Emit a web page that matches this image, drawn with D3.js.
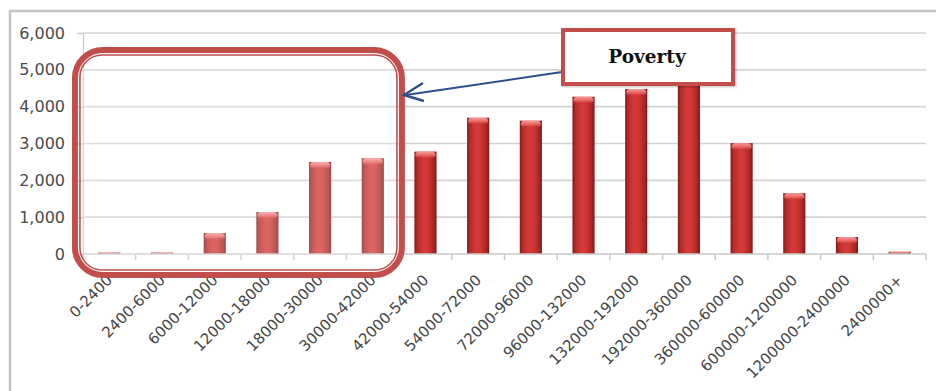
<!DOCTYPE html>
<html>
<head>
<meta charset="utf-8">
<script src="https://cdn.jsdelivr.net/npm/d3@7"></script>
<style>
  html, body { margin: 0; padding: 0; background: #ffffff; }
  svg { display: block; }
</style>
</head>
<body>
<svg id="chart" width="936" height="391"></svg>
<script>
// Income brackets and household counts per bracket
const categories = [
  "0-2400", "2400-6000", "6000-12000", "12000-18000", "18000-30000",
  "30000-42000", "42000-54000", "54000-72000", "72000-96000", "96000-132000",
  "132000-192000", "192000-360000", "360000-600000", "600000-1200000",
  "1200000-2400000", "2400000+"
];
const counts = [
  40, 40, 570, 1140, 2500,
  2600, 2780, 3700, 3620, 4270,
  4480, 4750, 3010, 1650,
  460, 60
];
const yTicks = [0, 1000, 2000, 3000, 4000, 5000, 6000];
// Brackets grouped under the poverty annotation
const povertyBrackets = categories.slice(0, 6);
const annotationLabel = "Poverty";

const svg = d3.select("#chart");
const W = 936, H = 391;
const plot = { left: 83, right: 926, top: 33, bottom: 254 };

const x = d3.scaleBand()
  .domain(categories)
  .range([plot.left, plot.right])
  .paddingInner(0.58)
  .paddingOuter(0.29);

const y = d3.scaleLinear()
  .domain([0, 6000])
  .range([plot.bottom, plot.top]);

const defs = svg.append("defs");

// Cylinder-like shading across each bar
const barGrad = defs.append("linearGradient")
  .attr("id", "barGrad").attr("x1", "0").attr("x2", "1").attr("y1", "0").attr("y2", "0");
[["0%", "#7e1a1a"], ["12%", "#b22a28"], ["40%", "#d43a37"], ["60%", "#d03835"],
 ["88%", "#aa2624"], ["100%", "#761616"]]
  .forEach(([o, c]) => barGrad.append("stop").attr("offset", o).attr("stop-color", c));

const capGrad = defs.append("linearGradient")
  .attr("id", "capGrad").attr("x1", "0").attr("x2", "0").attr("y1", "0").attr("y2", "1");
[["0%", "#f7a0a0", 1], ["60%", "#ec6a66", 0.8], ["100%", "#d43a37", 0]]
  .forEach(([o, c, a]) => capGrad.append("stop").attr("offset", o).attr("stop-color", c).attr("stop-opacity", a));

const shadow = defs.append("filter").attr("id", "soft").attr("x", "-10%").attr("y", "-10%")
  .attr("width", "130%").attr("height", "130%");
shadow.append("feDropShadow").attr("dx", 1).attr("dy", 1).attr("stdDeviation", 1.2)
  .attr("flood-color", "#000").attr("flood-opacity", 0.25);

// Outer frame (top and left edges)
svg.append("path")
  .attr("d", `M10,${H} L10,11 L${W},11`)
  .attr("fill", "none").attr("stroke", "#c4c4c4").attr("stroke-width", 2.5);

// Horizontal gridlines + y axis labels
const yAxis = d3.axisLeft(y)
  .tickValues(yTicks)
  .tickSize(6)
  .tickPadding(12)
  .tickFormat(d3.format(","));

const yG = svg.append("g").attr("transform", `translate(${plot.left},0)`).call(yAxis);
yG.select(".domain").attr("stroke", "#c8c8c8").attr("stroke-width", 1.2);
yG.selectAll(".tick line").attr("stroke", "#c8c8c8").attr("stroke-width", 1.5);
yG.selectAll(".tick text")
  .attr("fill", "#4a4a4a").attr("font-family", "DejaVu Sans, sans-serif").attr("font-size", "16px");

svg.append("g").selectAll("line")
  .data(yTicks.filter(d => d > 0))
  .join("line")
  .attr("x1", plot.left).attr("x2", plot.right)
  .attr("y1", d => y(d)).attr("y2", d => y(d))
  .attr("stroke", "#d2d2d2").attr("stroke-width", 1.6);

// Bars
const bars = svg.append("g");
bars.selectAll("rect.bar")
  .data(categories)
  .join("rect")
  .attr("class", "bar")
  .attr("x", d => x(d))
  .attr("y", (d, i) => y(counts[i]))
  .attr("width", x.bandwidth())
  .attr("height", (d, i) => y(0) - y(counts[i]))
  .attr("fill", "url(#barGrad)");

bars.selectAll("rect.cap")
  .data(categories)
  .join("rect")
  .attr("class", "cap")
  .attr("x", d => x(d) + 1)
  .attr("y", (d, i) => y(counts[i]))
  .attr("width", x.bandwidth() - 2)
  .attr("height", (d, i) => Math.min(7, y(0) - y(counts[i])))
  .attr("rx", 4)
  .attr("fill", "url(#capGrad)");

// Category axis with ticks between brackets
svg.append("line")
  .attr("x1", plot.left).attr("x2", plot.right)
  .attr("y1", plot.bottom).attr("y2", plot.bottom)
  .attr("stroke", "#c8c8c8").attr("stroke-width", 1.5);

const step = x.step();
const boundaries = categories.map(d => x(d) - (step - x.bandwidth()) / 2)
  .concat([plot.right]);
svg.append("g").selectAll("line")
  .data(boundaries)
  .join("line")
  .attr("x1", d => d).attr("x2", d => d)
  .attr("y1", plot.bottom).attr("y2", plot.bottom + 6)
  .attr("stroke", "#c8c8c8").attr("stroke-width", 1.5);

svg.append("g").selectAll("text")
  .data(categories)
  .join("text")
  .attr("transform", d => `translate(${x(d) + x.bandwidth() / 2 + 4},${plot.bottom + 27}) rotate(-45)`)
  .attr("text-anchor", "end")
  .attr("fill", "#454545")
  .attr("font-family", "DejaVu Sans, sans-serif")
  .attr("font-size", "15px")
  .text(d => d);

// Highlight around the poverty brackets
const first = povertyBrackets[0], last = povertyBrackets[povertyBrackets.length - 1];
const hx0 = x(first) - step * 0.5, hx1 = x(last) + x.bandwidth() + step * 0.4;
const hy0 = 47, hy1 = 278;

svg.append("rect")
  .attr("x", hx0 + 8).attr("y", hy0 + 8)
  .attr("width", hx1 - hx0 - 16).attr("height", hy1 - hy0 - 16)
  .attr("rx", 22)
  .attr("fill", "#ffffff").attr("fill-opacity", 0.22)
  .attr("stroke", "#c24e4c").attr("stroke-width", 1.6);

svg.append("rect")
  .attr("x", hx0 + 3).attr("y", hy0 + 3)
  .attr("width", hx1 - hx0 - 6).attr("height", hy1 - hy0 - 6)
  .attr("rx", 28)
  .attr("fill", "none")
  .attr("stroke", "#c24e4c").attr("stroke-width", 6);

// Arrow from label box to the highlight
const arrowTip = [hx1 - 1, 95];
const arrowStart = [562, 72];
svg.append("line")
  .attr("x1", arrowStart[0]).attr("y1", arrowStart[1])
  .attr("x2", arrowTip[0] + 2).attr("y2", arrowTip[1])
  .attr("stroke", "#2e4f8e").attr("stroke-width", 2);
svg.append("path")
  .attr("d", `M${arrowTip[0] + 19},${arrowTip[1] - 12} L${arrowTip[0]},${arrowTip[1]} L${arrowTip[0] + 20},${arrowTip[1] + 6}`)
  .attr("fill", "none").attr("stroke", "#2e4f8e").attr("stroke-width", 2.4)
  .attr("stroke-linejoin", "miter");

// Annotation box
svg.append("rect")
  .attr("x", 563).attr("y", 30)
  .attr("width", 170).attr("height", 54)
  .attr("fill", "#ffffff")
  .attr("stroke", "#c24e4c").attr("stroke-width", 4)
  .attr("filter", "url(#soft)");

svg.append("text")
  .attr("x", 647).attr("y", 63)
  .attr("text-anchor", "middle")
  .attr("font-family", "DejaVu Serif, serif")
  .attr("font-weight", "bold")
  .attr("font-size", "18.5px")
  .attr("fill", "#111")
  .text(annotationLabel);
</script>
</body>
</html>
